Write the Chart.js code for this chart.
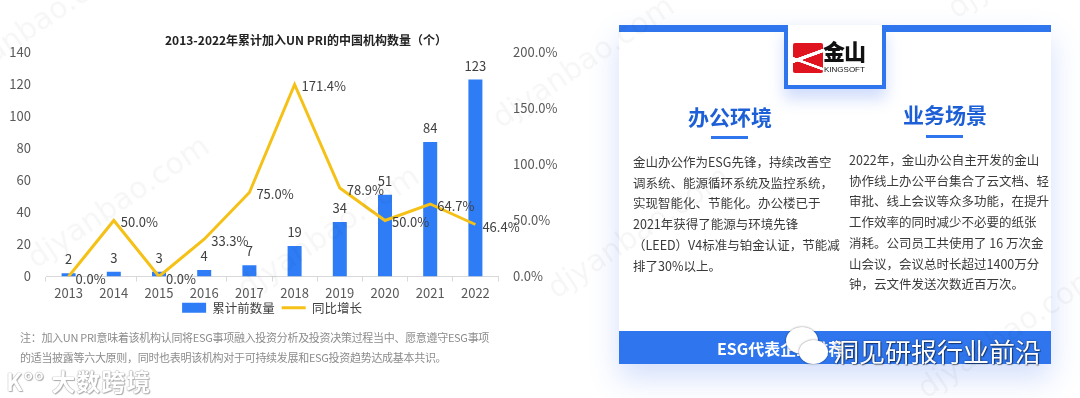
<!DOCTYPE html>
<html lang="zh-CN">
<head>
<meta charset="utf-8">
<script src="https://cdn.jsdelivr.net/npm/chart.js@4.4.1/dist/chart.umd.min.js"></script>
<style>
  html, body { margin: 0; padding: 0; background: #fff; }
  body { width: 1080px; height: 398px; position: relative; overflow: hidden;
         font-family: "Noto Sans CJK SC", "Noto Sans", sans-serif; }
  #chartBox { position: absolute; left: 0; top: 0; width: 612px; height: 331px; }
  .note { position: absolute; left: 20px; top: 327px; font-size: 11px; line-height: 20px; letter-spacing: -0.3px;
          color: #8c8c8c; white-space: nowrap; }
  .wm { position: absolute; font-family: "DejaVu Sans", sans-serif; font-size: 30px;
        color: rgba(0,0,0,0.035); transform: rotate(-34deg); transform-origin: left bottom;
        white-space: nowrap; pointer-events: none; }
  .brand { position: absolute; left: 6px; top: 363px; font-size: 24px; font-weight: 700;
           color: #fff; letter-spacing: 1px;
           text-shadow: 0 0 1px #9a9a9a, 0 0 1px #9a9a9a, 1px 1px 1px #b0b0b0; }
  .card { position: absolute; left: 619px; top: 25px; width: 432px; height: 339px; background: #fff;
          box-shadow: 0 14px 28px rgba(70,120,240,0.24); }
  .topbar { position: absolute; left: 0; top: 0; width: 100%; height: 7px; background: #2f76ee; }
  .logo { position: absolute; left: 165px; top: 0; width: 94px; height: 60px; background: #fff;
          border: 4px solid #2f76ee; border-top: none;
          box-shadow: 0 10px 14px rgba(70,120,240,0.25); }
  .logo .red { position: absolute; left: 5px; top: 18px; width: 30px; height: 30px; background: #e0141e;
               border-radius: 2px;
               background-image: linear-gradient(160deg, transparent 40%, #fff 41%, #fff 49%, transparent 50%),
                                 linear-gradient(200deg, transparent 60%, #fff 61%, #fff 67%, transparent 68%); }
  .logo .jin { position: absolute; left: 35px; top: 9px; font-size: 22px; font-weight: 900; color: #111;
               letter-spacing: -1px; }
  .logo .ks { position: absolute; left: 36px; top: 40px; font-family: "Liberation Sans", sans-serif;
              font-size: 8px; color: #111; }
  .head { position: absolute; top: 76px; width: 120px; text-align: center; font-size: 21px; font-weight: 700;
          color: #1c5fd6; }
  .uline { position: absolute; top: 111px; width: 37px; height: 3px; background: #2f76ee; }
  .para { position: absolute; font-size: 12.5px; line-height: 20.7px; color: #3a3a3a; white-space: nowrap; }
  .bottombar { position: absolute; left: 0; top: 306px; width: 100%; height: 33px; background: #2f76ee; }
  .bottombar span { position: absolute; left: 98px; top: 5px; font-size: 16px; font-weight: 700; color: #fff; }
  .wx { position: absolute; left: 786px; top: 327px; width: 44px; height: 40px; }
  .wx .b1 { position: absolute; left: 0; top: 0; width: 32px; height: 27px; border-radius: 50%;
            background: #fff; box-shadow: 0 0 2px rgba(0,0,0,0.55); }
  .wx .b2 { position: absolute; left: 13px; top: 13px; width: 29px; height: 24px; border-radius: 50%;
            background: #fff; box-shadow: 0 0 2px rgba(0,0,0,0.55); }
  .wxtext { position: absolute; left: 833px; top: 332px; font-size: 26px; color: #fff; white-space: nowrap;
            text-shadow: 0 0 2px rgba(0,0,0,0.6), 1px 1px 1px rgba(0,0,0,0.45); }
</style>
</head>
<body>
<div id="chartBox"><canvas id="barLine"></canvas></div>

<div class="note">注：加入UN PRI意味着该机构认同将ESG事项融入投资分析及投资决策过程当中、愿意遵守ESG事项<br>的适当披露等六大原则，同时也表明该机构对于可持续发展和ESG投资趋势达成基本共识。</div>

<div class="card">
  <div class="topbar"></div>
  <div class="logo">
    <div class="red"></div>
    <div class="jin">金山</div>
    <div class="ks">KINGSOFT</div>
  </div>
  <div class="head" style="left:51px">办公环境</div>
  <div class="uline" style="left:92px"></div>
  <div class="head" style="left:266px;top:74px">业务场景</div>
  <div class="uline" style="left:307px;top:110px"></div>
  <div class="para" style="left:14px;top:127px">金山办公作为ESG先锋，持续改善空<br>调系统、能源循环系统及监控系统，<br>实现智能化、节能化。办公楼已于<br>2021年获得了能源与环境先锋<br>（LEED）V4标准与铂金认证，节能减<br>排了30%以上。</div>
  <div class="para" style="left:230px;top:125px">2022年，金山办公自主开发的金山<br>协作线上办公平台集合了云文档、轻<br>审批、线上会议等众多功能，在提升<br>工作效率的同时减少不必要的纸张<br>消耗。公司员工共使用了 16 万次金<br>山会议，会议总时长超过1400万分<br>钟，云文件发送次数近百万次。</div>
  <div class="bottombar"><span>ESG代表企业推荐</span></div>
</div>

<div class="wx"><div class="b1"></div><div class="b2"></div></div>
<div class="wxtext">洞见研报行业前沿</div>

<div class="brand">K°° 大数跨境</div>

<div class="wm" style="left:-40px;top:60px">djyanbao.com</div>
<div class="wm" style="left:40px;top:240px">djyanbao.com</div>
<div class="wm" style="left:250px;top:270px">djyanbao.com</div>
<div class="wm" style="left:505px;top:100px">djyanbao.com</div>
<div class="wm" style="left:560px;top:270px">djyanbao.com</div>
<div class="wm" style="left:960px;top:-10px">djyanbao.com</div>
<div class="wm" style="left:930px;top:370px">djyanbao.com</div>

<script>
// 数据
const years = ['2013', '2014', '2015', '2016', '2017', '2018', '2019', '2020', '2021', '2022'];
const counts = [2, 3, 3, 4, 7, 19, 34, 51, 84, 123];
const growth = [0.0, 50.0, 0.0, 33.3, 75.0, 171.4, 78.9, 50.0, 64.7, 46.4];
const leftTicks = [0, 20, 40, 60, 80, 100, 120, 140];
const rightTicks = [0, 50, 100, 150, 200];

const FONT = '"Noto Sans CJK SC", "Noto Sans", sans-serif';
const BLUE = '#2e7cf6';
const YELLOW = '#f5c116';

// 数值标签
const valueLabels = {
    id: 'valueLabels',
    afterDatasetsDraw(chart) {
        const ctx = chart.ctx;
        ctx.save();
        ctx.font = '13px ' + FONT;
        ctx.fillStyle = '#404040';
        ctx.textBaseline = 'alphabetic';
        ctx.textAlign = 'center';
        chart.getDatasetMeta(0).data.forEach((bar, i) => {
            ctx.fillText(String(counts[i]), bar.x, bar.y - 9);
        });
        ctx.textAlign = 'left';
        chart.getDatasetMeta(1).data.forEach((pt, i) => {
            ctx.fillText(growth[i].toFixed(1) + '%', pt.x + 7, pt.y + 7);
        });
        ctx.restore();
    }
};

// 图例上移，贴近横轴标签
const legendLift = {
    id: 'legendLift',
    afterLayout(chart) {
        if (chart.legend) {
            chart.legend.top -= 7;
            chart.legend.bottom -= 7;
        }
    }
};

new Chart(document.getElementById('barLine'), {
    type: 'bar',
    data: {
        labels: years,
        datasets: [
            {
                label: '累计前数量',
                data: counts,
                backgroundColor: BLUE,
                borderWidth: 0,
                barPercentage: 0.31,
                categoryPercentage: 1,
                yAxisID: 'y',
                order: 1
            },
            {
                type: 'line',
                label: '同比增长',
                data: growth,
                borderColor: YELLOW,
                backgroundColor: YELLOW,
                borderWidth: 3,
                pointRadius: 0,
                tension: 0,
                yAxisID: 'y1',
                order: 0
            }
        ]
    },
    options: {
        responsive: true,
        maintainAspectRatio: false,
        animation: false,
        plugins: {
            title: {
                display: true,
                text: '2013-2022年累计加入UN PRI的中国机构数量（个）',
                color: '#222',
                font: { family: FONT, size: 12, weight: 'bold' },
                padding: { top: 33, bottom: 5 }
            },
            legend: {
                position: 'bottom',
                fullSize: false,
                labels: {
                    color: '#404040',
                    font: { family: FONT, size: 12.5 },
                    usePointStyle: true,
                    boxHeight: 10,
                    pointStyleWidth: 24,
                    padding: 4,
                    sort: (a, b) => a.datasetIndex - b.datasetIndex,
                    generateLabels: chart => {
                        const items = Chart.defaults.plugins.legend.labels.generateLabels(chart);
                        return items.map(it => {
                            if (it.datasetIndex === 0) {
                                it.pointStyle = 'rect';
                                it.lineWidth = 0;
                                it.fillStyle = BLUE;
                                it.strokeStyle = BLUE;
                                it.text = it.text + ' ';
                            } else {
                                it.pointStyle = 'line';
                                it.lineWidth = 3;
                                it.strokeStyle = YELLOW;
                            }
                            return it;
                        });
                    }
                }
            },
            tooltip: { enabled: false }
        },
        scales: {
            x: {
                grid: { drawOnChartArea: false, drawTicks: true, tickLength: 5, color: '#d9d9d9', offset: true },
                border: { display: true, color: '#d9d9d9' },
                ticks: { color: '#595959', font: { family: FONT, size: 13, lineHeight: 1 }, padding: 5, maxRotation: 0 }
            },
            y: {
                position: 'left',
                min: 0,
                max: 140,
                afterBuildTicks: s => { s.ticks = leftTicks.map(v => ({ value: v })); },
                afterFit: s => { s.width = 46; },
                grid: { display: false },
                border: { display: false },
                ticks: { color: '#595959', font: { family: FONT, size: 13 }, padding: 7 }
            },
            y1: {
                position: 'right',
                min: 0,
                max: 200,
                afterBuildTicks: s => { s.ticks = rightTicks.map(v => ({ value: v })); },
                afterFit: s => { s.width = 114; },
                grid: { display: false },
                border: { display: false },
                ticks: {
                    color: '#595959',
                    font: { family: FONT, size: 13 },
                    padding: 7,
                    callback: v => v.toFixed(1) + '%'
                }
            }
        }
    },
    plugins: [valueLabels, legendLift]
});
</script>
</body>
</html>
